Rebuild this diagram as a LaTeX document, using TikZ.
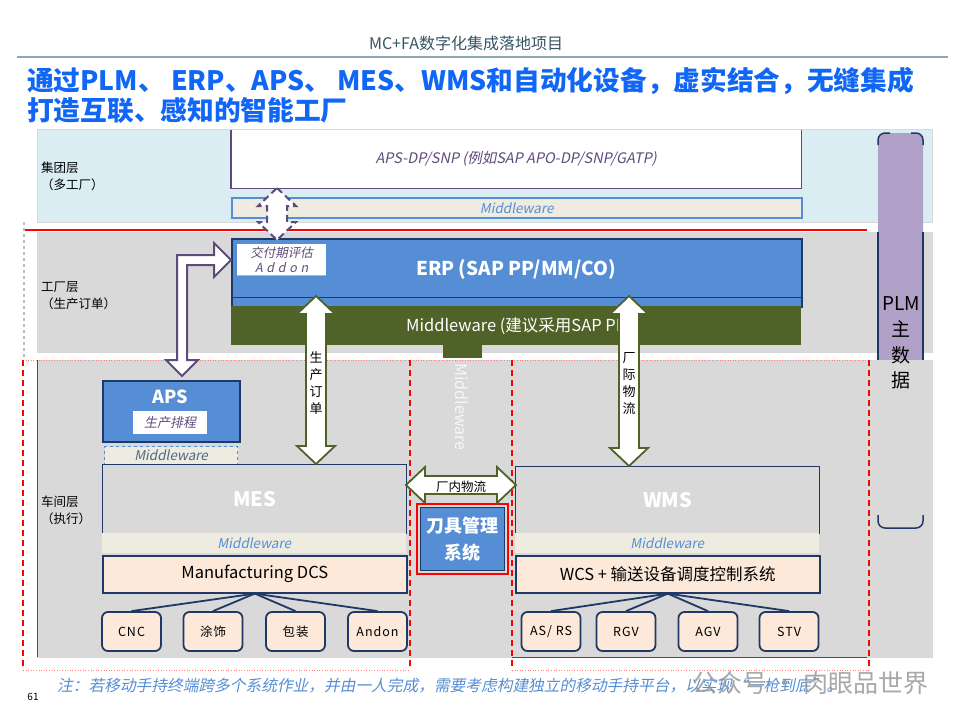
\documentclass[tikz,border=0pt]{standalone}
\usepackage{fontspec}
\setmainfont{Noto Sans CJK SC}[AutoFakeSlant=0.2]
\usetikzlibrary{calc}
\definecolor{headgrey}{RGB}{55,85,100}
\definecolor{headline}{RGB}{143,169,179}
\definecolor{titleblue}{RGB}{16,102,245}
\definecolor{bandblue}{RGB}{218,237,243}
\definecolor{bandgrey}{RGB}{217,217,217}
\definecolor{erpblue}{RGB}{85,142,213}
\definecolor{navy}{RGB}{31,56,100}
\definecolor{olive}{RGB}{79,98,40}
\definecolor{mwfill}{RGB}{238,236,225}
\definecolor{peach}{RGB}{253,233,217}
\definecolor{plmpurple}{RGB}{177,160,199}
\definecolor{purpleline}{RGB}{95,75,123}
\definecolor{slate}{RGB}{79,105,135}
\tikzset{
  band/.style     = {draw=black!15, line width=0.8pt},
  layer/.style    = {anchor=west, align=left, inner sep=0pt, font=\fontsize{12.5}{17}\selectfont},
  sysbox/.style   = {draw=navy, line width=1pt, fill=bandgrey, text=white, inner sep=0pt,
                     font=\bfseries\fontsize{20}{24}\selectfont},
  mwbar/.style    = {fill=mwfill, draw=erpblue!70, line width=0.6pt, text=erpblue, inner sep=0pt,
                     font=\itshape\fontsize{13.5}{15}\selectfont},
  dcsbox/.style   = {draw=navy, line width=1.6pt, fill=peach, inner sep=0pt,
                     font=\fontsize{16.5}{19}\selectfont},
  devbox/.style   = {draw=navy, line width=1.8pt, fill=peach, rounded corners=6pt, inner sep=0pt,
                     minimum width=59pt, minimum height=39pt,
                     font=\fontsize{12.5}{14}\selectfont\addfontfeature{LetterSpace=8}},
  bluebox/.style  = {draw=navy, line width=1.5pt, fill=erpblue, text=white, inner sep=0pt},
  whitetag/.style = {fill=white, text=purpleline, inner sep=0pt, font=\itshape\fontsize{13}{15}\selectfont},
  vlabel/.style   = {align=center, inner sep=0pt, font=\fontsize{13}{17}\selectfont},
  link/.style     = {draw=navy, line width=1.8pt},
  fatgreen/.style = {draw=olive, line width=1.8pt, fill=white},
  fatpurple/.style= {draw=purpleline, line width=2pt, fill=white},
  zone/.style     = {draw=red, line width=1.5pt, dash pattern=on 6pt off 4pt},
  zoneedge/.style = {draw=red!50, line width=0.6pt, dotted},
}
% hollow double arrows: vertical (top, bottom) and horizontal (left, right)
\newcommand{\fatdbl}[3]{%
  \draw[#1] (#2) -- ($(#2)+(19,18)$) -- ($(#2)+(10,18)$) -- ($(#3)+(10,-18)$) -- ($(#3)+(19,-18)$)
    -- (#3) -- ($(#3)+(-19,-18)$) -- ($(#3)+(-10,-18)$) -- ($(#2)+(-10,18)$) -- ($(#2)+(-19,18)$) -- cycle;}
\newcommand{\fathdbl}[3]{%
  \draw[#1] (#2) -- ($(#2)+(19,-18)$) -- ($(#2)+(19,-9)$) -- ($(#3)+(-19,-9)$) -- ($(#3)+(-19,-18)$)
    -- (#3) -- ($(#3)+(-19,18)$) -- ($(#3)+(-19,9)$) -- ($(#2)+(19,9)$) -- ($(#2)+(19,18)$) -- cycle;}

\begin{document}
\begin{tikzpicture}[x=1pt, y=-1pt]
  \useasboundingbox[fill=white] (0,0) rectangle (960,720);

  % header and title
  \node[text=headgrey, font=\fontsize{16}{18}\selectfont] (head) at (466,43) {MC+FA数字化集成落地项目};
  \draw[headline, line width=2.5pt] (17,57) -- (948,57);
  \node[anchor=west, align=left, inner sep=0pt, text=titleblue, font=\bfseries\fontsize{26.7}{30}\selectfont]
    (title) at (27,95) {通过PLM、 ERP、APS、 MES、WMS和自动化设备，虚实结合，无缝集成\\打造互联、感知的智能工厂};

  % layers
  \fill[bandblue, band] (37,129) rectangle (932,222);
  \fill[bandgrey, band] (37,232) rectangle (932,352);
  \draw[black!25, dashed, line width=1.2pt] (24,222) -- (24,358);
  \fill[plmpurple, rounded corners=8pt] (878,133) rectangle (923,366);
  \draw[navy, line width=1.5pt, rounded corners=7pt] (878,145) |- (890,133);
  \draw[navy, line width=1.5pt, rounded corners=7pt] (923,145) |- (911,133);
  \draw[navy, line width=1.5pt] (878,232) -- (878,360) (923,232) -- (923,360);
  \fill[bandgrey, band] (37,360) rectangle (932,657);
  \draw[navy, line width=1.5pt, rounded corners=7pt] (878,515) |- (923,528) -- (923,515);
  \node[align=center, inner sep=0pt, font=\fontsize{19}{25.7}\selectfont] (plm) at (901,343) {PLM\\主\\数\\据};

  \node[layer] (grp)  at (41,176.5) {集团层\\（多工厂）};
  \node[layer] (fac)  at (41,295.5) {工厂层\\（生产订单）};
  \node[layer] (shop) at (41,510)   {车间层\\（执行）};

  \draw[red, line width=2pt] (25,230) -- (867,230);

  % zones
  \draw[zoneedge] (23,360) -- (869,360) (23,670) -- (410,670) (512,670) -- (869,670);
  \draw[zone] (23,360) -- (23,670) (410,360) -- (410,670) (512,360) -- (512,670) (869,360) -- (869,670);
  \draw[red, line width=0.8pt] (37,360) -- (37,657);
  \draw[red, line width=1pt] (512,657) -- (867,657);

  % group level
  \node[anchor=north west, minimum width=570pt, minimum height=58pt, fill=white, inner sep=0pt,
        text=purpleline, font=\itshape\fontsize{14.5}{16}\selectfont] (apsdp) at (231,130)
        {APS-DP/SNP (例如SAP APO-DP/SNP/GATP)};
  \draw[purpleline, line width=1.5pt] (apsdp.north west) -- (apsdp.south west) -- (apsdp.south east) -- (apsdp.north east);
  \node[mwbar, draw=erpblue, line width=1.5pt, anchor=north west, minimum width=570pt, minimum height=20pt]
    (grpmw) at (231,197) {Middleware};

  % plant level
  \node[bluebox, anchor=north west, minimum width=570pt, minimum height=68pt] (erp) at (231,238) {};
  \draw[navy, line width=1.5pt] ($(erp.south west)+(0,-10)$) -- ($(erp.south east)+(0,-10)$);
  \node[text=white, font=\bfseries\fontsize{19}{22}\selectfont] (erptxt) at (516,269) {ERP (SAP PP/MM/CO)};
  \node[anchor=north west, minimum width=89pt, minimum height=31pt, fill=white, inner sep=0pt, align=center,
        text=purpleline, font=\itshape\fontsize{12.5}{15}\selectfont] (addon) at (237,244)
        {交付期评估\\{\addfontfeature{LetterSpace=30}Addon}};
  \draw[erpblue!60, line width=1pt] (addon.south west) -- (addon.south east);
  \node[anchor=north west, minimum width=570pt, minimum height=39pt, fill=olive, inner sep=0pt,
        text=white, font=\fontsize{16.5}{18}\selectfont] (facmw) at (231,306) {Middleware (建议采用SAP PI)};
  \node[anchor=north, fill=olive, minimum width=39pt, minimum height=14pt, inner sep=0pt] (mwtab) at (462.5,344) {};
  \node[rotate=-90, text=white!97!black, font=\fontsize{16}{18}\selectfont] (midmw) at (462,407) {Middleware};

  % shop level, MES side
  \node[bluebox, anchor=north west, minimum width=137pt, minimum height=61pt] (aps) at (102,380) {};
  \node[text=white, font=\bfseries\fontsize{18}{20}\selectfont] (apstxt) at (170.5,397) {APS};
  \node[whitetag, minimum width=74pt, minimum height=23pt] (apsplan) at (170,422.5) {生产排程};
  \node[mwbar, dashed, draw=erpblue, line width=1.2pt, text=slate, anchor=north west,
        minimum width=133pt, minimum height=18pt] (apsmw) at (104,446) {Middleware};
  \node[sysbox, anchor=north west, minimum width=304pt, minimum height=69pt] (mes) at (102,464) {MES};
  \node[mwbar, draw=none, anchor=north west, minimum width=304pt, minimum height=20pt] (mesmw) at (102,533) {Middleware};
  \node[dcsbox, anchor=north west, minimum width=304pt, minimum height=37pt] (dcs) at (102,555) {Manufacturing DCS};
  \node[devbox] (cnc)  at (131.5,631.5) {CNC};
  \node[devbox] (tush) at (213,631.5)   {涂饰};
  \node[devbox] (bzh)  at (295.5,631.5) {包装};
  \node[devbox] (andn) at (377.5,631.5) {Andon};
  \foreach \d in {cnc,tush,bzh,andn}
    \draw[link] (dcs.south) -- (\d.north);

  % shop level, WMS side
  \node[sysbox, anchor=north west, minimum width=304pt, minimum height=67pt] (wms) at (515,466) {WMS};
  \node[mwbar, draw=none, anchor=north west, minimum width=304pt, minimum height=20pt] (wmsmw) at (515,533) {Middleware};
  \node[dcsbox, anchor=north west, minimum width=304pt, minimum height=37pt] (wcs) at (515,555) {WCS + 输送设备调度控制系统};
  \node[devbox] (asrs) at (551,631.5) {AS/ RS};
  \node[devbox] (rgv)  at (626,631.5) {RGV};
  \node[devbox] (agv)  at (708,631.5) {AGV};
  \node[devbox] (stv)  at (789,631.5) {STV};
  \foreach \d in {asrs,rgv,agv,stv}
    \draw[link] (wcs.south) -- (\d.north);

  % tool management
  \node[draw=red, line width=1.5pt, anchor=north west, minimum width=91pt, minimum height=70pt, inner sep=0pt]
    (toolframe) at (416,503) {};
  \node[bluebox, minimum width=84pt, minimum height=63pt, align=center,
        font=\bfseries\fontsize{18}{27}\selectfont] (tool) at (toolframe.center) {刀具管理\\系统};

  % flows
  \coordinate (plantop) at (277,188);
  \coordinate (planbot) at (277,240);
  \fatdbl{fatpurple, dash pattern=on 7pt off 4pt}{plantop}{planbot}
  \draw[fatpurple] (231,260) -- (214,243) -- (214,255) -- (177,255) -- (177,360) -- (166,360) -- (182,376)
    -- (198,360) -- (187,360) -- (187,265) -- (214,265) -- (214,277) -- cycle;

  \coordinate (ordtop) at (316,296);
  \coordinate (ordbot) at (ordtop |- mes.north);
  \fatdbl{fatgreen}{ordtop}{ordbot}
  \node[vlabel] (ordlbl) at (316,383) {生\\产\\订\\单};

  \coordinate (logtop) at (629,296);
  \coordinate (logbot) at (logtop |- wms.north);
  \fatdbl{fatgreen}{logtop}{logbot}
  \node[vlabel] (loglbl) at (629,383) {厂\\际\\物\\流};

  \coordinate (inl) at (406,485);
  \coordinate (inr) at (516,485);
  \fathdbl{fatgreen}{inl}{inr}
  \node[font=\fontsize{12.5}{14}\selectfont, inner sep=0pt] (inlbl) at (461,487) {厂内物流};

  % footer
  \node[anchor=west, inner sep=0pt, text=erpblue, font=\itshape\fontsize{15.7}{18}\selectfont] (note) at (57,686)
    {注：若移动手持终端跨多个系统作业，并由一人完成，需要考虑构建独立的移动手持平台，以实现“一枪到底”。};
  \node[font=\fontsize{10}{12}\selectfont] (pg) at (33,697) {61};
  \node[anchor=west, inner sep=0pt, text=black!40, opacity=0.85, font=\fontsize{25}{28}\selectfont] (wm) at (692,683)
    {公众号 · 肉眼品世界};
\end{tikzpicture}
\end{document}
